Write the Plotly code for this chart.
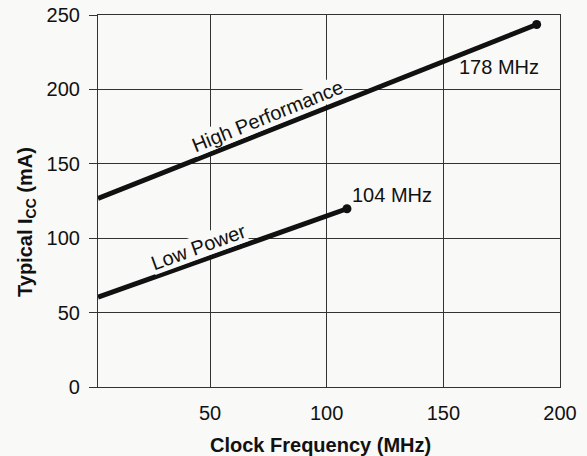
import plotly.graph_objects as go

# Data
hp_freq = [2, 190]
hp_icc = [126.7, 243.6]
lp_freq = [2, 108.7]
lp_icc = [60.4, 119.8]
x_ticks = [50, 100, 150, 200]
y_ticks = [0, 50, 100, 150, 200, 250]

bg = "#f9f9f7"
ink = "#111111"
grid = "#333333"
font = "Liberation Sans, Arial, sans-serif"
fs = 20

fig = go.Figure()
fig.add_trace(go.Scatter(x=hp_freq, y=hp_icc, mode="lines",
                         line=dict(color=ink, width=5), showlegend=False))
fig.add_trace(go.Scatter(x=lp_freq, y=lp_icc, mode="lines",
                         line=dict(color=ink, width=5), showlegend=False))
fig.add_trace(go.Scatter(x=[hp_freq[-1], lp_freq[-1]], y=[hp_icc[-1], lp_icc[-1]],
                         mode="markers", marker=dict(color=ink, size=9),
                         showlegend=False))

# Curve labels
fig.add_annotation(x=74.6, y=182, text="High Performance", showarrow=False,
                   textangle=-22, bgcolor=bg, borderpad=0,
                   font=dict(family=font, size=fs, color=ink))
fig.add_annotation(x=45.1, y=94, text="Low Power", showarrow=False,
                   textangle=-20, bgcolor=bg, borderpad=0,
                   font=dict(family=font, size=fs, color=ink))
fig.add_annotation(x=173.9, y=215, text="178 MHz", showarrow=False,
                   font=dict(family=font, size=fs, color=ink))
fig.add_annotation(x=128.1, y=128.7, text="104 MHz", showarrow=False,
                   font=dict(family=font, size=fs, color=ink))

# Axis titles
fig.add_annotation(xref="paper", yref="paper", x=(320.5 - 97.5) / 462.5, y=-(445 - 386.7) / 372.2,
                   text="<b>Clock Frequency (MHz)</b>", showarrow=False,
                   yanchor="middle", xanchor="center",
                   font=dict(family=font, size=fs, color=ink))
fig.add_annotation(xref="paper", yref="paper", x=-(97.5 - 26) / 462.5, y=(386.7 - 222) / 372.2,
                   text="<b>Typical I<sub>CC</sub> (mA)</b>", showarrow=False,
                   textangle=-90, yanchor="middle", xanchor="center",
                   font=dict(family=font, size=fs, color=ink))

fig.update_xaxes(range=[2, 200], tickvals=x_ticks, showgrid=True,
                 gridcolor=grid, gridwidth=1.2, automargin=False,
                 showline=True, linecolor=grid, linewidth=1.2, mirror=True,
                 ticks="", ticklabelstandoff=8,
                 tickfont=dict(family=font, size=fs, color=ink),
                 zeroline=False)
fig.update_yaxes(range=[0, 250], tickvals=y_ticks, showgrid=True,
                 gridcolor=grid, gridwidth=1.2, automargin=False,
                 showline=True, linecolor=grid, linewidth=1.2, mirror=True,
                 ticks="outside", ticklen=8, tickcolor=grid,
                 ticklabelstandoff=5,
                 tickfont=dict(family=font, size=fs, color=ink),
                 zeroline=False)

fig.update_layout(width=587, height=456,
                  margin=dict(l=97.5, r=27, t=14.5, b=69.3),
                  paper_bgcolor=bg, plot_bgcolor=bg)

fig.write_html("out.html", config={"displayModeBar": False},
               post_script="document.body.style.margin='0px';document.body.style.background='" + bg + "';")
